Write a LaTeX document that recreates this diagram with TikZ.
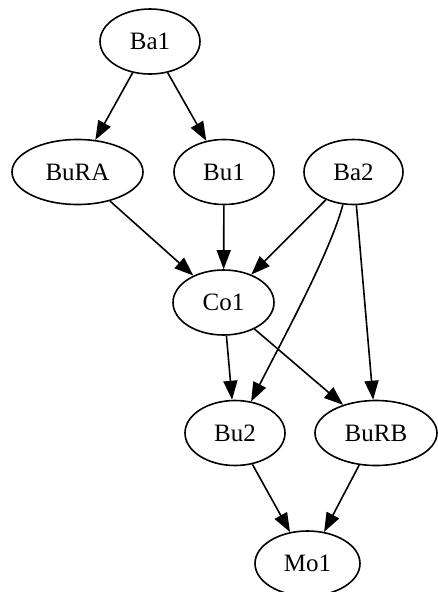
\documentclass[tikz,border=0pt]{standalone}
\usepackage{fontspec}
\setmainfont{Liberation Serif}
\usetikzlibrary{shapes.geometric,arrows.meta}
\begin{document}
\begin{tikzpicture}[x=1pt,y=1pt,
  gv/.style={draw, ellipse, line width=1.6pt, inner sep=0pt,
             minimum height=65pt, font=\fontsize{25}{30}\selectfont},
  edge/.style={line width=1.6pt,
               -{Triangle[length=19pt,width=14pt]}}]
\useasboundingbox (0,0) rectangle (437,-592);

% nodes, one rank per row
\node[gv, minimum width=100pt] (Ba1)  at (150,-41.5)   {Ba1};
\node[gv, minimum width=131pt] (BuRA) at (77.5,-172)   {BuRA};
\node[gv, minimum width=100pt] (Bu1)  at (224,-172)    {Bu1};
\node[gv, minimum width=99pt]  (Ba2)  at (353.5,-172)  {Ba2};
\node[gv, minimum width=101pt] (Co1)  at (223.5,-302.5){Co1};
\node[gv, minimum width=100pt] (Bu2)  at (235,-433)    {Bu2};
\node[gv, minimum width=122pt] (BuRB) at (376,-433)    {BuRB};
\node[gv, minimum width=105pt] (Mo1)  at (307.5,-563.5){Mo1};

% edges
\draw[edge] (Ba1) -- (BuRA);
\draw[edge] (Ba1) -- (Bu1);
\draw[edge] (BuRA) -- (Co1);
\draw[edge] (Bu1) -- (Co1);
\draw[edge] (Ba2) -- (Co1);
\draw[edge] (Ba2.-108) .. controls +(-105:50) and +(63:70) .. (Bu2.63);
\draw[edge] (Ba2) -- (BuRB);
\draw[edge] (Co1) -- (Bu2);
\draw[edge] (Co1) -- (BuRB);
\draw[edge] (Bu2) -- (Mo1);
\draw[edge] (BuRB) -- (Mo1);
\end{tikzpicture}
\end{document}
